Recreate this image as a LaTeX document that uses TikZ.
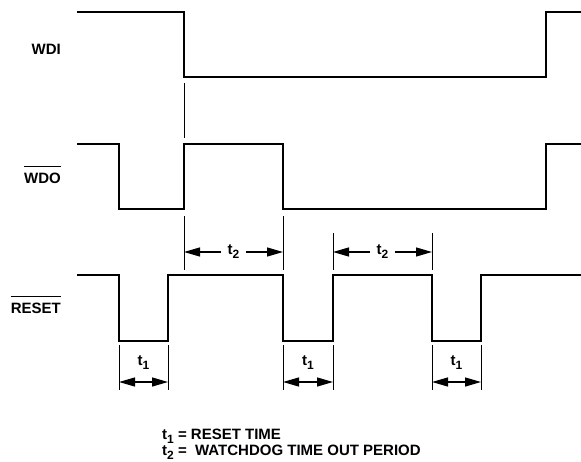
\documentclass[tikz,border=0pt]{standalone}
\usepackage{fontspec}
\setmainfont{Liberation Sans}
\usetikzlibrary{arrows.meta,positioning}
\newcommand{\tsub}[1]{t\raisebox{-4pt}{\fontsize{12}{12}\selectfont #1}}

\begin{document}
\begin{tikzpicture}[x=1pt,y=-1pt,
  wave/.style={line width=1.8pt},
  guide/.style={line width=0.6pt},
  bar/.style={line width=0.9pt},
  dim/.style={line width=1.3pt,-{Triangle[length=16pt,width=9pt]}},
  sig/.style={anchor=east,inner sep=0pt,font=\fontsize{15}{17}\selectfont\bfseries},
  tlab/.style={inner sep=0pt,font=\fontsize{15}{17}\selectfont\bfseries},
  note/.style={anchor=base west,inner sep=0pt,font=\fontsize{15}{17}\selectfont\bfseries}]
\useasboundingbox (0,0) rectangle (581,461);

% signal names
\node[sig] (wdi)   at (61,49)  {WDI};
\node[sig] (wdo)   at (61,178) {WDO};
\node[sig] (reset) at (61,308) {RESET};
\draw[bar] ([yshift=6pt]wdo.north west) -- ([yshift=6pt]wdo.north east);
\draw[bar] ([yshift=6pt]reset.north west) -- ([yshift=6pt]reset.north east);

% waveforms
\draw[wave] (77,12) -- (184,12) -- (184,77) -- (546,77) -- (546,12) -- (581,12);
\draw[wave] (77,144) -- (119,144) -- (119,209) -- (184,209) -- (184,144) -- (283,144)
  -- (283,209) -- (546,209) -- (546,144) -- (581,144);
\draw[wave] (77,275) -- (119,275) -- (119,341) -- (168,341) -- (168,275) -- (283,275)
  -- (283,341) -- (333,341) -- (333,275) -- (432,275) -- (432,341) -- (481,341)
  -- (481,275) -- (581,275);

% guide lines
\draw[guide] (184,83) -- (184,138);
\draw[guide] (184,216) -- (184,270);
\draw[guide] (283,216) -- (283,270);
\draw[guide] (333,233) -- (333,270);
\draw[guide] (432,233) -- (432,270);
\foreach \x in {119,168,283,333,432,481}
  \draw[guide] (\x,345) -- (\x,390);

% watchdog time out period
\foreach \a/\b/\n in {184/283/a,333/432/b} {
  \node[tlab,inner sep=6pt] (t2\n) at ({(\a+\b)/2},252) {\tsub{2}};
  \coordinate (l2\n) at (\a,252);
  \coordinate (r2\n) at (\b,252);
  \draw[dim] (t2\n) -- (l2\n);
  \draw[dim] (t2\n) -- (r2\n);
}

% reset time
\foreach \a/\b/\n in {119/168/a,283/333/b,432/481/c} {
  \node[tlab] (t1\n) at ({(\a+\b)/2},363) {\tsub{1}};
  \coordinate (l1\n) at (\a,382);
  \coordinate (r1\n) at (\b,382);
  \draw[dim,{Triangle[length=16pt,width=9pt]}-{Triangle[length=16pt,width=9pt]}] (l1\n) -- (r1\n);
}

% legend
\node[note] (n1) at (162,439) {\tsub{1} = RESET TIME};
\node[note] (n2) at (162,455) {\tsub{2} = \ WATCHDOG TIME OUT PERIOD};
\end{tikzpicture}
\end{document}
